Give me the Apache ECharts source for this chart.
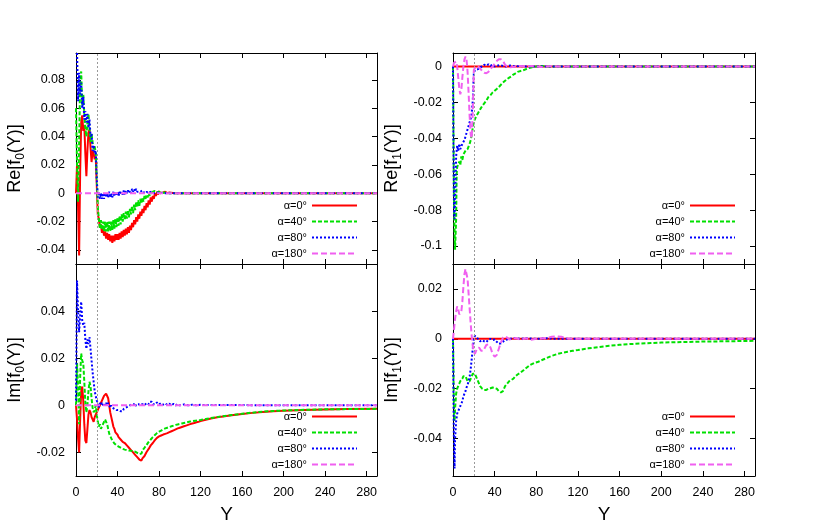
<!DOCTYPE html>
<html>
<head>
<meta charset="utf-8">
<script src="https://cdn.jsdelivr.net/npm/echarts@6/dist/echarts.min.js"></script>
<style>html,body{margin:0;padding:0;background:#fff}#c{width:830px;height:529px}</style>
</head>
<body>
<div id="c"></div>
<script>
// ---------- tick labels ----------
const xTickStep = 40;
const tlYTicks = [-0.04, -0.02, 0, 0.02, 0.04, 0.06, 0.08];
const blYTicks = [-0.02, 0, 0.02, 0.04];
const trYTicks = [-0.1, -0.08, -0.06, -0.04, -0.02, 0];
const brYTicks = [-0.04, -0.02, 0, 0.02];
const legendNames = ['α=0°', 'α=40°', 'α=80°', 'α=180°'];
const markY = 20;

// ---------- Re[f0(Y)] ----------
const re0_a0 = [[0,0.000],[1,0.020],[2,-0.010],[3,-0.044],[4,0.015],[5,0.050],[6,0.055],[7,0.044],[8,0.048],[9,0.028],[10,0.012],[11,0.030],[12,0.043],[13,0.045],[14,0.032],[15,0.022],[16,0.030],[17,0.028],[18,0.024],[19,0.026],[20,0.006],[21,-0.015],
[22,-0.018],[23,-0.024],[24,-0.022],[25,-0.028],[26,-0.025],[27,-0.030],[28,-0.027],[29,-0.032],[30,-0.028],[31,-0.033],[32,-0.029],[33,-0.034],[34,-0.030],[35,-0.035],[36,-0.030],[37,-0.034],[38,-0.029],[39,-0.033],[40,-0.029],[41,-0.033],[42,-0.028],[43,-0.032],[44,-0.027],[45,-0.031],[46,-0.026],[47,-0.030],[48,-0.025],[49,-0.029],[50,-0.024],[51,-0.028],[52,-0.023],[53,-0.026],[54,-0.021],[55,-0.024],[56,-0.019],[57,-0.022],[58,-0.017],[59,-0.020],[60,-0.015],[61,-0.018],[62,-0.013],[63,-0.016],[64,-0.011],[65,-0.014],[66,-0.009],[67,-0.012],[68,-0.007],[69,-0.010],[70,-0.005],[71,-0.008],[72,-0.003],[73,-0.006],[74,-0.002],[75,-0.004],[76,0.000],[77,-0.002],[78,0.001],[79,-0.001],[80,0.0015],[81,0.000],[82,0.001],[84,0.0005],[86,0.001],[88,0.000],[90,0.0005],[95,0],[100,0],[290,0]];
const re0_a40 = [[0,0.060],[1,0.020],[2,-0.006],[3,0.035],[4,0.078],[5,0.086],[6,0.062],[7,0.070],[8,0.056],[9,0.046],[10,0.040],[11,0.050],[12,0.056],[13,0.046],[14,0.036],[15,0.042],[16,0.036],[17,0.031],[18,0.033],[19,0.028],[20,0.012],[21,-0.010],
[22,-0.018],[23,-0.025],[24,-0.019],[25,-0.026],[26,-0.020],[27,-0.027],[28,-0.020],[29,-0.027],[30,-0.020],[31,-0.027],[32,-0.020],[33,-0.027],[34,-0.020],[35,-0.026],[36,-0.019],[37,-0.025],[38,-0.018],[39,-0.024],[40,-0.017],[41,-0.023],[42,-0.016],[43,-0.022],[44,-0.015],[45,-0.020],[46,-0.014],[47,-0.019],[48,-0.013],[49,-0.018],[50,-0.012],[51,-0.017],[52,-0.011],[53,-0.015],[54,-0.009],[55,-0.014],[56,-0.008],[57,-0.012],[58,-0.006],[59,-0.010],[60,-0.005],[61,-0.009],[62,-0.004],[63,-0.007],[64,-0.003],[65,-0.006],[66,-0.002],[67,-0.004],[68,-0.001],[69,-0.003],[70,0.000],[71,-0.002],[72,0.001],[73,-0.001],[74,0.001],[75,0.000],[76,0.0015],[78,0.0005],[80,0.001],[82,0],[85,0.0005],[90,0],[100,0],[290,0]];
const re0_a80 = [[0,0.130],[1,0.100],[2,0.065],[3,0.085],[4,0.070],[5,0.078],[6,0.060],[7,0.068],[8,0.052],[9,0.058],[10,0.050],[11,0.056],[12,0.046],[13,0.052],[14,0.040],[15,0.042],[16,0.030],[17,0.034],[18,0.028],[19,0.030],[20,0.010],
[21,-0.003],[22,0.001],[23,-0.004],[24,0.000],[25,-0.004],[26,0.000],[27,-0.004],[28,0.000],[29,-0.003],[30,0.000],[31,-0.003],[32,0.001],[33,-0.003],[34,0.000],[35,-0.003],[36,0.001],[37,-0.002],[38,0.001],[39,-0.002],[40,0.001],[41,-0.002],[42,0.001],[43,-0.001],[44,0.001],[45,-0.001],[46,0.002],[47,-0.001],[48,0.002],[49,0.000],[50,0.002],[51,0.000],[52,0.002],[53,0.000],[54,0.003],[55,0.001],[56,0.003],[57,0.001],[58,0.003],[59,0.001],[60,0.002],[62,0.001],[64,0.002],[66,0.000],[68,0.001],[70,0.000],[72,0.001],[75,0.000],[80,0.0005],[85,0],[290,0]];
const re0_a180 = [[0,0],[290,0]];

// ---------- Im[f0(Y)] ----------
const im0_a0 = [[0,0.000],[1,-0.006],[2,-0.014],[3,-0.020],[4,-0.006],[5,0.006],[6,0.008],[7,0.002],[8,-0.008],[9,-0.015],[10,-0.016],[11,-0.010],[12,-0.004],[13,-0.002],[14,-0.003],[15,-0.005],[16,-0.006],[17,-0.007],[18,-0.005],[19,-0.004],[20,-0.003],[21,-0.002],[22,-0.001],[23,0.000],[24,0.001],[25,0.002],[26,0.003],[27,0.004],[28,0.0045],[29,0.005],[30,0.0045],[31,0.003],[32,0.000],[33,-0.003],[34,-0.005],[35,-0.007],[36,-0.009],[37,-0.010],[38,-0.0115],[39,-0.012],[40,-0.0125],[41,-0.0135],[42,-0.0135],[43,-0.0145],[44,-0.0145],[45,-0.0155],[46,-0.015],[47,-0.016],[48,-0.0158],[49,-0.017],[50,-0.0168],[51,-0.018],[52,-0.0178],[53,-0.019],[54,-0.0188],[55,-0.020],[56,-0.0198],[57,-0.021],[58,-0.0208],[59,-0.022],[60,-0.0218],[61,-0.023],[62,-0.0225],[63,-0.0235],[64,-0.0225],[65,-0.0228],[66,-0.0215],[67,-0.021],[68,-0.0198],[69,-0.0198],[70,-0.0185],[71,-0.0185],[72,-0.017],[73,-0.0172],[74,-0.016],[75,-0.016],[76,-0.0148],[77,-0.015],[78,-0.0138],[79,-0.0142],
[80,-0.0132],[81,-0.0140],[82,-0.0128],[83,-0.0136],[84,-0.0124],[85,-0.0132],[86,-0.0121],[87,-0.0129],[88,-0.0118],[89,-0.0126],[90,-0.0114],[91,-0.0122],[92,-0.0110],[93,-0.0118],[94,-0.0106],[95,-0.0113],[96,-0.0102],[97,-0.0109],[98,-0.0098],[99,-0.0105],[100,-0.0095],[101,-0.0101],[102,-0.0092],[103,-0.0098],[104,-0.0089],[105,-0.0094],[106,-0.0086],[107,-0.0091],[108,-0.0083],[109,-0.0088],[110,-0.0080],[111,-0.0085],[112,-0.0077],[113,-0.0082],[114,-0.0075],[115,-0.0079],[116,-0.0072],[118,-0.0070],[120,-0.0067],[125,-0.0061],[130,-0.0056],[135,-0.0052],[140,-0.0048],[150,-0.0042],[160,-0.0037],[170,-0.0032],[180,-0.0028],[190,-0.0025],[200,-0.0023],[220,-0.0020],[240,-0.0018],[260,-0.0016],[290,-0.0015]];
const im0_a40 = [[0,0.000],[1,0.018],[2,0.008],[3,-0.008],[4,0.012],[5,0.022],[6,0.019],[7,0.018],[8,0.010],[9,0.001],[10,-0.003],[11,0.000],[12,0.006],[13,0.010],[14,0.008],[15,0.003],[16,-0.001],[17,-0.003],[18,-0.002],[19,0.000],[20,-0.004],[21,-0.007],[22,-0.009],[23,-0.008],[24,-0.010],[25,-0.009],[26,-0.008],[27,-0.007],[28,-0.006],[29,-0.007],[30,-0.008],[31,-0.010],[32,-0.012],[33,-0.013],[34,-0.014],[35,-0.015],
[36,-0.0155],[37,-0.0162],[38,-0.0160],[39,-0.0170],[40,-0.0165],[41,-0.0175],[42,-0.0170],[43,-0.0180],[44,-0.0175],[45,-0.0185],[46,-0.0178],[47,-0.0188],[48,-0.0182],[49,-0.0190],[50,-0.0183],[51,-0.0192],[52,-0.0185],[53,-0.0193],[54,-0.0186],[55,-0.0195],[56,-0.0188],[57,-0.0197],[58,-0.0192],[59,-0.0202],[60,-0.0197],[61,-0.0207],[62,-0.0200],[63,-0.0205],[64,-0.0192],[65,-0.0195],[66,-0.0180],[67,-0.0182],[68,-0.0168],[69,-0.0170],[70,-0.0155],[71,-0.0158],[72,-0.0145],[73,-0.0148],[74,-0.0135],[75,-0.0138],[76,-0.0126],[77,-0.0130],[78,-0.0118],[79,-0.0124],[80,-0.0112],[81,-0.0120],[82,-0.0107],[83,-0.0114],[84,-0.0102],[85,-0.0110],[86,-0.0098],[87,-0.0106],[88,-0.0095],[89,-0.0102],[90,-0.0092],[92,-0.0089],[93,-0.0095],[94,-0.0086],[95,-0.0092],[96,-0.0083],[98,-0.0081],[99,-0.0087],[100,-0.0079],[102,-0.0077],[104,-0.0075],[106,-0.0073],[108,-0.0071],[110,-0.0069],[112,-0.0067],[115,-0.0065],[120,-0.0062],[125,-0.0058],[130,-0.0054],[140,-0.0047],[150,-0.0041],[160,-0.0036],[170,-0.0031],[180,-0.0027],[190,-0.0024],[200,-0.0022],[220,-0.0019],[240,-0.0017],[260,-0.0016],[290,-0.0015]];
const im0_a80 = [[0,0.002],[1,0.053],[2,0.040],[3,0.031],[4,0.038],[5,0.044],[6,0.036],[7,0.034],[8,0.035],[9,0.028],[10,0.024],[11,0.028],[12,0.026],[13,0.029],[14,0.024],[15,0.019],[16,0.014],[17,0.010],[18,0.006],[19,0.004],[20,0.002],[21,0.001],[22,-0.001],[23,0.001],[24,0.000],[25,0.001],[26,0.000],[27,0.001],[28,0.000],[29,0.001],[30,0.000],[31,0.001],[32,0.000],[33,-0.001],[34,0.000],[35,-0.001],[36,-0.0005],[37,-0.0015],[38,-0.001],[39,-0.002],[40,-0.0015],[41,-0.002],[42,-0.0015],[43,-0.0025],[44,-0.002],[45,-0.0025],[46,-0.0015],[47,-0.002],[48,-0.001],[49,-0.0015],[50,-0.0005],[51,-0.001],[52,0.000],[53,-0.0005],[54,0.0005],[55,0.000],[56,0.0005],[57,-0.0005],[58,0.0005],[59,-0.0003],[60,0.0005],[62,0.000],[64,0.0005],[66,0.000],[68,0.001],[70,0.0005],[71,0.0015],[72,0.0008],[73,0.0015],[74,0.0005],[75,0.0012],[76,0.0004],[78,0.0012],[80,0.0004],[82,0.001],[84,0.0003],[86,0.0008],[88,0.0002],[90,0.0007],[92,0.000],[94,0.0006],[96,0.000],[98,0.0005],[100,0.000],[104,0.0004],[108,0.000],[112,0.0003],[116,0.000],[120,0.0002],[130,0.0001],[140,0.0002],[160,0.0001],[200,0],[290,0]];
const im0_a180 = [[0,0],[290,0]];

// ---------- Re[f1(Y)] ----------
const re1_a0 = [[0,0],[290,0]];
const re1_a40 = [[0,0.000],[0.5,-0.040],[1,-0.080],[2,-0.102],[3,-0.085],[3.5,-0.060],[4,-0.056],[5,-0.057],[6,-0.053],[7,-0.055],[8,-0.050],[9,-0.052],[10,-0.049],[11,-0.050],[12,-0.047],[13,-0.048],[14,-0.046],[15,-0.046],[16,-0.043],[17,-0.041],[18,-0.038],[19,-0.034],[20,-0.031],[21,-0.030],[22,-0.028],[23,-0.027],[24,-0.026],[25,-0.025],[26,-0.024],[27,-0.023],[28,-0.022],[29,-0.021],[30,-0.0205],[31,-0.020],[32,-0.019],[33,-0.018],[34,-0.017],[35,-0.0165],[36,-0.016],[37,-0.015],[38,-0.0145],[40,-0.0135],[42,-0.0125],[44,-0.0115],[46,-0.0102],[48,-0.009],[50,-0.008],[52,-0.007],[54,-0.0062],[56,-0.0055],[58,-0.0045],[60,-0.0038],[62,-0.003],[65,-0.0025],[68,-0.002],[72,-0.001],[76,-0.0004],[80,0.000],[85,0.0003],[90,0],[290,0]];
const re1_a80 = [[0,0.000],[0.5,-0.050],[1,-0.080],[1.5,-0.085],[2,-0.075],[3,-0.050],[4,-0.044],[5,-0.047],[6,-0.043],[7,-0.046],[8,-0.045],[9,-0.043],[10,-0.042],[11,-0.041],[12,-0.039],[13,-0.037],[14,-0.035],[15,-0.033],[16,-0.031],[17,-0.029],[18,-0.026],[19,-0.019],[20,-0.004],[21,-0.002],[22,-0.001],[24,-0.0015],[26,-0.0005],[28,0.000],[30,0.001],[32,0.0005],[34,0.0012],[36,0.0003],[38,0.001],[40,0.000],[45,0.0008],[50,0.000],[55,0.0005],[60,0.000],[65,0.0003],[70,0],[290,0]];
const re1_a180 = [[0,0.000],[1,0.002],[2,0.003],[3,0.0028],[4,0.000],[5,-0.006],[6,-0.012],[7,-0.0155],[8,-0.013],[9,-0.006],[10,0.000],[11,0.004],[12,0.0055],[13,0.004],[14,-0.003],[15,-0.015],[16,-0.028],[17,-0.038],[18,-0.040],[19,-0.025],[20,-0.002],[21,-0.001],[22,0.000],[24,0.000],[26,-0.001],[28,-0.0025],[30,-0.0035],[32,-0.0038],[34,-0.003],[36,-0.0015],[38,0.000],[40,0.0015],[42,0.003],[44,0.004],[46,0.004],[48,0.003],[50,0.001],[52,0.000],[55,-0.0005],[60,0.000],[65,0.0003],[70,0],[75,0.0003],[80,0],[85,-0.0003],[90,0],[95,0.0002],[100,0],[290,0]];

// ---------- Im[f1(Y)] ----------
const im1_a0 = [[0,0],[290,0]];
const im1_a40 = [[0,0.000],[0.5,-0.015],[1,-0.030],[1.5,-0.033],[2,-0.028],[3,-0.022],[4,-0.020],[5,-0.019],[6,-0.018],[7,-0.017],[8,-0.017],[9,-0.016],[10,-0.015],[11,-0.0145],[12,-0.015],[13,-0.016],[14,-0.017],[15,-0.0175],[16,-0.017],[17,-0.0165],[18,-0.015],[19,-0.014],[20,-0.0138],[21,-0.014],[22,-0.015],[23,-0.016],[24,-0.017],[25,-0.018],[26,-0.019],[27,-0.0195],[28,-0.020],[30,-0.0205],[32,-0.0205],[34,-0.020],[36,-0.0198],[38,-0.0195],[40,-0.0197],[42,-0.020],[44,-0.021],[46,-0.0215],[48,-0.021],[50,-0.019],[52,-0.018],[54,-0.017],[56,-0.0165],[58,-0.016],[60,-0.015],[62,-0.0143],[65,-0.0135],[68,-0.0125],[70,-0.0118],[74,-0.0105],[78,-0.0097],[82,-0.0092],[86,-0.0084],[90,-0.0077],[95,-0.0068],[100,-0.0061],[105,-0.0056],[110,-0.0052],[115,-0.0048],[120,-0.0045],[130,-0.0038],[140,-0.0033],[150,-0.0028],[160,-0.0024],[170,-0.0021],[180,-0.0019],[190,-0.0017],[200,-0.0015],[220,-0.0013],[240,-0.0011],[260,-0.0010],[290,-0.0008]];
const im1_a80 = [[0,0.000],[0.5,-0.025],[1,-0.045],[1.5,-0.052],[2,-0.040],[3,-0.033],[4,-0.030],[5,-0.029],[6,-0.028],[7,-0.027],[8,-0.026],[9,-0.025],[10,-0.023],[11,-0.022],[12,-0.021],[13,-0.0195],[14,-0.0185],[15,-0.017],[16,-0.015],[17,-0.012],[18,-0.008],[19,-0.004],[20,0.000],[21,0.0012],[22,0.0008],[24,0.000],[26,-0.001],[28,-0.0005],[30,-0.001],[32,-0.0013],[34,-0.0003],[36,0.000],[38,-0.0005],[40,-0.0003],[42,-0.0012],[44,-0.002],[46,-0.0018],[48,-0.0012],[50,-0.0005],[55,0.000],[60,0.0003],[65,0],[70,0.0002],[80,0],[90,0.0002],[100,0],[290,0]];
const im1_a180 = [[0,0.000],[1,0.004],[2,0.008],[3,0.011],[4,0.013],[5,0.012],[6,0.0098],[7,0.0095],[8,0.011],[9,0.015],[10,0.021],[11,0.026],[12,0.028],[13,0.0275],[14,0.024],[15,0.018],[16,0.012],[17,0.006],[18,0.001],[19,-0.003],[20,-0.005],[21,-0.006],[22,-0.005],[23,-0.004],[24,-0.0035],[25,-0.0035],[26,-0.004],[27,-0.0048],[28,-0.005],[29,-0.0048],[30,-0.004],[32,-0.0025],[34,-0.0022],[36,-0.0035],[38,-0.006],[40,-0.0072],[42,-0.0065],[44,-0.004],[46,-0.0015],[48,0.0005],[50,0.001],[52,0.0005],[54,-0.0003],[56,0],[60,0.0003],[65,-0.0003],[70,0.0002],[75,-0.0004],[80,0],[90,0.0003],[95,0.0008],[100,0.001],[104,0.0008],[108,0.0003],[112,0],[290,0]];

// ---------- build ----------
const FONT = 'Liberation Sans, Arial, Helvetica, sans-serif';
const COLORS = ['#ff0000', '#00e000', '#0000ff', '#f060f0'];
const DASH = ['solid', [4, 2], [2, 2], [6, 3]];

const panels = [
  {key:'tl', grid:{left:76, top:53, width:301, height:211}, ymin:-0.05, ymax:0.099, ticks:tlYTicks, name:['Re[f','0','(Y)]'], xLabels:false, data:[re0_a0, re0_a40, re0_a80, re0_a180], legendRight:472, legendTop:199},
  {key:'bl', grid:{left:76, top:264, width:301, height:212}, ymin:-0.03, ymax:0.06, ticks:blYTicks, name:['Im[f','0','(Y)]'], xLabels:true, data:[im0_a0, im0_a40, im0_a80, im0_a180], legendRight:472, legendTop:410},
  {key:'tr', grid:{left:453, top:53, width:302, height:211}, ymin:-0.11, ymax:0.0075, ticks:trYTicks, name:['Re[f','1','(Y)]'], xLabels:false, data:[re1_a0, re1_a40, re1_a80, re1_a180], legendRight:94, legendTop:199},
  {key:'br', grid:{left:453, top:264, width:302, height:212}, ymin:-0.055, ymax:0.03, ticks:brYTicks, name:['Im[f','1','(Y)]'], xLabels:true, data:[im1_a0, im1_a40, im1_a80, im1_a180], legendRight:94, legendTop:410}
];

const grid = [], xAxis = [], yAxis = [], series = [], legend = [];
const labelMap = {};
const axisLine = {show:true, onZero:false, lineStyle:{color:'#000', width:1}};
const axisTick = {show:true, inside:true, length:5, lineStyle:{color:'#000', width:1}};
const fmt = v => String(+(+v).toFixed(4));

panels.forEach((p, g) => {
  grid.push(Object.assign({outerBoundsMode:'none', containLabel:false}, p.grid));
  ['bottom', 'top'].forEach((pos, k) => {
    xAxis.push({
      type:'value', gridIndex:g, position:pos, min:0, max:290, interval:xTickStep,
      axisLine, axisTick, splitLine:{show:false},
      axisLabel:{show: k === 0 && p.xLabels, fontSize:12.5, fontFamily:FONT, color:'#000', margin:10, showMaxLabel:false},
      name: (k === 0 && p.xLabels) ? 'Y' : '', nameLocation:'middle', nameGap:29,
      nameTextStyle:{fontSize:19, fontFamily:FONT, color:'#000'}
    });
  });
  ['left', 'right'].forEach((pos, k) => {
    yAxis.push({
      type:'value', gridIndex:g, position:pos, min:p.ymin, max:p.ymax,
      axisLine, axisTick:Object.assign({}, axisTick, {customValues:p.ticks}),
      splitLine:{show:false},
      axisLabel:{show: k === 0, customValues:p.ticks, formatter:fmt, fontSize:12.5, fontFamily:FONT, color:'#000', margin:11},
      name: k === 0 ? '{m|' + p.name[0] + '}{s|' + p.name[1] + '}{m|' + p.name[2] + '}' : '',
      nameLocation:'middle', nameGap:49,
      nameTextStyle:{fontSize:18, fontFamily:FONT, color:'#000',
        rich:{m:{fontSize:18, fontFamily:FONT, color:'#000', verticalAlign:'bottom', padding:[0,0,3,0]},
              s:{fontSize:12, fontFamily:FONT, color:'#000', verticalAlign:'bottom'}}}
    });
  });
  const names = [];
  p.data.forEach((d, i) => {
    const nm = p.key + i;
    names.push(nm);
    labelMap[nm] = legendNames[i];
    const s = {
      type:'line', name:nm, data:d, xAxisIndex:2*g, yAxisIndex:2*g,
      symbol:'none', showSymbol:false, clip:true, animation:false, z: 2 + i,
      lineStyle:{color:COLORS[i], width:2, type:DASH[i]}, itemStyle:{color:COLORS[i]}
    };
    if (i === 0) {
      s.markLine = {silent:true, symbol:['none','none'], label:{show:false}, animation:false,
        lineStyle:{color:'#999', type:[2,2], width:1}, data:[{xAxis:markY}]};
    }
    series.push(s);
  });
  legend.push({
    orient:'vertical', align:'right', right:p.legendRight, top:p.legendTop, padding:0,
    itemWidth:45, itemHeight:10, itemGap:3, selectedMode:false, data:names,
    itemStyle:{opacity:0},
    formatter: n => labelMap[n],
    textStyle:{fontSize:11, fontFamily:FONT, color:'#000', lineHeight:13}
  });
});

const chart = echarts.init(document.getElementById('c'), null, {renderer:'canvas'});
chart.setOption({animation:false, backgroundColor:'#fff', grid, xAxis, yAxis, series, legend});
</script>
</body>
</html>
